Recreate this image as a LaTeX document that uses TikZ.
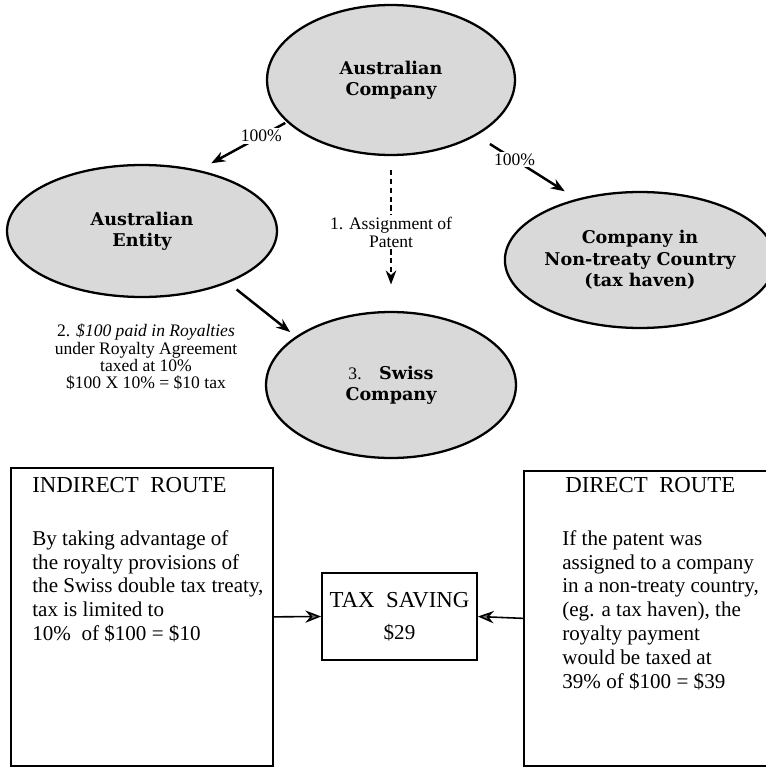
\documentclass[tikz,border=0pt]{standalone}
\usepackage{fontspec}
\setmainfont{Liberation Serif}
\newfontfamily\ovalfont{DejaVu Serif}
\usetikzlibrary{arrows.meta,positioning,shapes.geometric}

\begin{document}
\begin{tikzpicture}[
          x=0.02cm, y=-0.02cm,
          firm/.style={ellipse, draw=black, fill=black!15, line width=1.3pt,
              inner sep=0pt, align=center,
              font=\ovalfont\bfseries\fontsize{10}{12.2}\selectfont},
          routebox/.style={rectangle, draw=black, line width=1pt, anchor=north west},
          taxbox/.style={rectangle, draw=black, line width=1pt, align=center,
              minimum width=3.1cm, minimum height=1.74cm,
              font=\fontsize{13}{15}\selectfont},
          head/.style={anchor=base west, inner sep=0pt, font=\fontsize{13}{15}\selectfont},
          body/.style={anchor=north west, inner sep=0pt, align=left,
              font=\fontsize{12}{13.6}\selectfont},
          note/.style={align=center, inner sep=0pt, font=\fontsize{10}{9.8}\selectfont},
          arr/.style={-{Stealth[length=8pt,width=6pt,fill=black!55]}, line width=1.4pt},
          darr/.style={-{Stealth[length=8pt,width=6pt,fill=black!55]}, line width=1.2pt,
              dash pattern=on 3pt off 2pt},
          harr/.style={-{Stealth[length=9pt,width=7pt,fill=black!55]}, line width=0.9pt},
          lbl/.style={fill=white, inner sep=1pt, font=\fontsize{10}{10.2}\selectfont, align=center}
      ]
      \useasboundingbox (0,0) rectangle (766,767);
      \clip (0,0) rectangle (766,767);
      % companies
      \node[firm, minimum width=4.96cm, minimum height=3.0cm]  (auco)   at (391,80)  {Australian\\Company};
      \node[firm, minimum width=5.4cm,  minimum height=2.64cm] (auent)  at (142,231) {Australian\\Entity};
      \node[firm, minimum width=5.04cm, minimum height=2.72cm] (haven)  at (640,260) {Company in\\Non-treaty Country\\(tax haven)};
      \node[firm, minimum width=5.0cm,  minimum height=2.92cm] (swiss)  at (391,385) {{\normalfont\rmfamily\fontsize{10}{12}\selectfont 3.}\quad Swiss\\Company};
      \draw[arr, shorten <=1pt, shorten >=8pt] (auco.202) -- node[lbl, pos=0.29] {100\%} (auent.47);
      \draw[arr, shorten <=9pt, shorten >=8pt] (auco.327) -- node[lbl, pos=0.38] {100\%} (haven.136);
      \draw[darr, shorten <=8pt, shorten >=15pt] (auco.south) -- node[lbl, pos=0.49] {1. Assignment of\\Patent} (swiss.north);
      \draw[arr, shorten <=6pt, shorten >=4pt] (auent.329) -- (swiss.153);
      \node[note] (royalty) at (146,357) {2. \textit{\$100 paid in Royalties}\\under Royalty Agreement\\taxed at 10\%\\\$100 X 10\% = \$10 tax};
      % routes
      \node[routebox, minimum width=5.24cm, minimum height=5.96cm] (indirect) at (10,467) {};
      \node[head] (indhead) at (32,492) {INDIRECT\ \ ROUTE};
      \node[body] (indtxt) at (32,530) {By taking advantage of\\the royalty provisions of\\the Swiss double tax treaty,\\tax is limited to\\10\%\ \ of \$100 = \$10};
      \node[routebox, minimum width=5.6cm, minimum height=5.9cm] (direct) at (523,470) {};
      \node[head] (dirhead) at (565,492) {DIRECT\ \ ROUTE};
      \node[body] (dirtxt) at (562,530) {If the patent was\\assigned to a company\\in a non-treaty country,\\(eg. a tax haven), the\\royalty payment\\would be taxed at\\39\% of \$100 = \$39};
      \node[taxbox] (saving) at (399.5,616.5) {TAX\ \ SAVING\\[3pt]{\fontsize{12}{14}\selectfont\$29}};
      \draw[harr] (indirect.east) -- (saving.west);
      \draw[harr] (direct.west) -- (saving.east);
\end{tikzpicture}
\end{document}
